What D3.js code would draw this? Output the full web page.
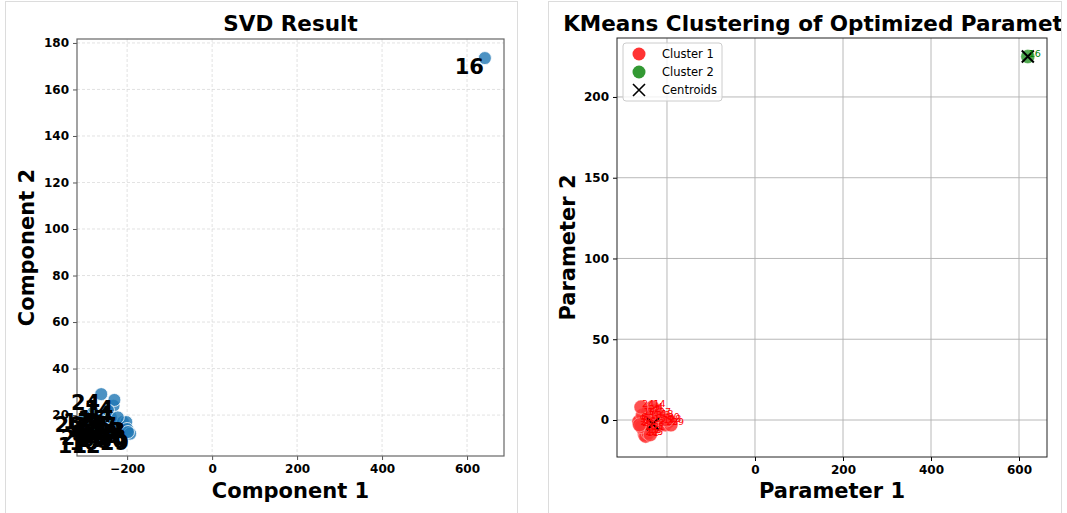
<!DOCTYPE html>
<html>
  <head>
    <meta charset="utf-8" />
    <title>SVD and KMeans</title>
    <style>
      body {
        margin: 0;
        background: #fff;
        font-family: 'DejaVu Sans', sans-serif;
      }
      .tick text {
        font-family: 'DejaVu Sans', sans-serif;
        font-weight: bold;
        font-size: 12px;
        fill: #000;
      }
    </style>
    <script src="https://d3js.org/d3.v7.min.js"></script>
  </head>
  <body>
    <div id="chart"></div>
    <script>
      // SVD result, point index = label
      const svdX = [-285, -270, -290, -215, -232, -250, -275, -260, -240, -295, -265, -292, -260, -220, -230, -245,
                    642, -280, -255, -210, -300, -238, -268, -202, -261, -248, -285, -222, -200, -193, -198];
      const svdY = [17, 15, 19, 15, 24, 18, 13, 20, 14, 16, 12, 10.6, 10.6, 16, 26.5, 22,
                    173.5, 21, 16, 17, 19.5, 19, 18, 17, 29, 13, 14, 19, 14, 12, 12.7];

      // KMeans on optimized parameters
      const paramX = [-257, -246.5, -251, -208, -225, -239.5, -260.5, -236, -222, -264, -253.5, -248.5, -243, -215, -233, -232.5,
                      620, -255.5, -241.5, -211, -258.5, -234.5, -244, -204, -259, -238, -262.5, -220.5, -197, -191, -200.5];
      const paramY = [-2, 3, -9, 1, 6, -3, 0, 4, -4, -1, -6, -10, -8, 2, 8, -1,
                      225, 3, 1, -2, -4, -6, 5, -3, 8, -9, -3, 3, -1, -3, 0];
      const clusterOf = [0, 0, 0, 0, 0, 0, 0, 0, 0, 0, 0, 0, 0, 0, 0, 0,
                         1, 0, 0, 0, 0, 0, 0, 0, 0, 0, 0, 0, 0, 0, 0];
      const centroidX = [-232, 620];
      const centroidY = [-2.5, 225];
      const clusterNames = ["Cluster 1", "Cluster 2"];
      const clusterColors = ["rgb(255,51,51)", "rgb(51,153,51)"];

      const svdXTicks = [-200, 0, 200, 400, 600];
      const svdYTicks = [20, 40, 60, 80, 100, 120, 140, 160, 180];
      const paramXGrid = [-200, 0, 200, 400, 600];
      const paramXTicks = [0, 200, 400, 600];
      const paramYTicks = [0, 50, 100, 150, 200];

      const svg = d3.select("#chart").append("svg")
        .attr("width", 1067).attr("height", 513);

      // panel cards
      svg.append("rect").attr("x", 5.5).attr("y", 1.5).attr("width", 512).attr("height", 530)
        .attr("fill", "#fff").attr("stroke", "#dcdcdc");
      svg.append("rect").attr("x", 548.5).attr("y", 1.5).attr("width", 513).attr("height", 530)
        .attr("fill", "#fff").attr("stroke", "#dcdcdc");
      svg.append("clipPath").attr("id", "card2")
        .append("rect").attr("x", 549).attr("y", 2).attr("width", 512).attr("height", 530);

      // ---------- left: SVD ----------
      const L = { left: 77, right: 504, top: 39, bottom: 456 };
      const x1 = d3.scaleLinear().domain([-318, 687]).range([L.left, L.right]);
      const y1 = d3.scaleLinear().domain([2.4, 181.7]).range([L.bottom, L.top]);
      const g1 = svg.append("g");

      // grid
      g1.append("g").selectAll("line").data(svdXTicks).join("line")
        .attr("x1", d => x1(d)).attr("x2", d => x1(d)).attr("y1", L.top).attr("y2", L.bottom)
        .attr("stroke", "#d6d6d6").attr("stroke-width", 0.7).attr("stroke-dasharray", "3,2");
      g1.append("g").selectAll("line").data(svdYTicks).join("line")
        .attr("x1", L.left).attr("x2", L.right).attr("y1", d => y1(d)).attr("y2", d => y1(d))
        .attr("stroke", "#d6d6d6").attr("stroke-width", 0.7).attr("stroke-dasharray", "3,2");

      g1.append("g").attr("transform", `translate(0,${L.bottom})`)
        .call(d3.axisBottom(x1).tickValues(svdXTicks).tickSize(4).tickPadding(4))
        .call(a => a.select(".domain").remove())
        .call(a => a.selectAll(".tick line").attr("stroke", "#555"));
      g1.append("g").attr("transform", `translate(${L.left},0)`)
        .call(d3.axisLeft(y1).tickValues(svdYTicks).tickSize(4).tickPadding(4))
        .call(a => a.select(".domain").remove())
        .call(a => a.selectAll(".tick line").attr("stroke", "#555"));

      g1.append("rect").attr("x", L.left).attr("y", L.top)
        .attr("width", L.right - L.left).attr("height", L.bottom - L.top)
        .attr("fill", "none").attr("stroke", "#666").attr("stroke-width", 1.2);

      g1.append("g").selectAll("circle").data(svdX).join("circle")
        .attr("cx", d => x1(d)).attr("cy", (d, i) => y1(svdY[i])).attr("r", 6.5)
        .attr("fill", "rgb(31,119,180)").attr("fill-opacity", 0.8)
        .attr("stroke", "#fff").attr("stroke-width", 0.8);

      g1.append("g").selectAll("text").data(svdX).join("text")
        .attr("x", d => x1(d) - 1).attr("y", (d, i) => y1(svdY[i]))
        .attr("dy", 16).attr("text-anchor", "end")
        .attr("font-size", 21).attr("font-weight", "bold").attr("fill", "#000")
        .text((d, i) => i);

      g1.append("text").attr("x", (L.left + L.right) / 2).attr("y", 31)
        .attr("text-anchor", "middle").attr("font-size", 21.5).attr("font-weight", "bold")
        .text("SVD Result");
      g1.append("text").attr("x", (L.left + L.right) / 2).attr("y", 498)
        .attr("text-anchor", "middle").attr("font-size", 21).attr("font-weight", "bold")
        .text("Component 1");
      g1.append("text").attr("transform", `translate(34,${(L.top + L.bottom) / 2}) rotate(-90)`)
        .attr("text-anchor", "middle").attr("font-size", 21).attr("font-weight", "bold")
        .text("Component 2");

      // ---------- right: KMeans ----------
      const R = { left: 617, right: 1047, top: 38, bottom: 457 };
      const x2 = d3.scaleLinear().domain([-313.6, 663.6]).range([R.left, R.right]);
      const y2 = d3.scaleLinear().domain([-22.9, 236.5]).range([R.bottom, R.top]);
      const g2 = svg.append("g").attr("clip-path", "url(#card2)");

      g2.append("g").selectAll("line").data(paramXGrid).join("line")
        .attr("x1", d => x2(d)).attr("x2", d => x2(d)).attr("y1", R.top).attr("y2", R.bottom)
        .attr("stroke", "#b0b0b0").attr("stroke-width", 0.9);
      g2.append("g").selectAll("line").data(paramYTicks).join("line")
        .attr("x1", R.left).attr("x2", R.right).attr("y1", d => y2(d)).attr("y2", d => y2(d))
        .attr("stroke", "#b0b0b0").attr("stroke-width", 0.9);

      g2.append("g").attr("transform", `translate(0,${R.bottom})`)
        .call(d3.axisBottom(x2).tickValues(paramXTicks).tickSize(4).tickPadding(4))
        .call(a => a.select(".domain").remove());
      g2.append("g").attr("transform", `translate(${R.left},0)`)
        .call(d3.axisLeft(y2).tickValues(paramYTicks).tickSize(4).tickPadding(4))
        .call(a => a.select(".domain").remove());

      g2.append("rect").attr("x", R.left).attr("y", R.top)
        .attr("width", R.right - R.left).attr("height", R.bottom - R.top)
        .attr("fill", "none").attr("stroke", "#222").attr("stroke-width", 1);

      const idx = d3.range(paramX.length);
      [0, 1].forEach(c => {
        g2.append("g").selectAll("circle").data(idx.filter(i => clusterOf[i] === c)).join("circle")
          .attr("cx", i => x2(paramX[i])).attr("cy", i => y2(paramY[i])).attr("r", 7)
          .attr("fill", clusterColors[c]).attr("fill-opacity", 0.85)
          .attr("stroke", "#fff").attr("stroke-opacity", 0.6).attr("stroke-width", 0.6);
      });

      const xMark = (sel, s) => sel.attr("d", `M${-s},${-s}L${s},${s}M${-s},${s}L${s},${-s}`)
        .attr("stroke", "#000").attr("stroke-width", 2).attr("fill", "none");
      g2.append("g").selectAll("path").data(centroidX).join("path")
        .attr("transform", (d, i) => `translate(${x2(d)},${y2(centroidY[i])})`)
        .call(xMark, 6);

      g2.append("g").selectAll("text").data(idx).join("text")
        .attr("x", i => x2(paramX[i]) + 1).attr("y", i => y2(paramY[i]))
        .attr("font-size", 9.5).attr("fill", i => clusterOf[i] === 0 ? "#ff0000" : "#008000")
        .text(i => i);

      // legend
      const lg = g2.append("g").attr("transform", "translate(623,43)");
      lg.append("rect").attr("width", 99).attr("height", 58).attr("rx", 3)
        .attr("fill", "#fff").attr("fill-opacity", 0.8).attr("stroke", "#ccc");
      clusterNames.forEach((n, c) => {
        lg.append("circle").attr("cx", 16).attr("cy", 11 + c * 18).attr("r", 6.5)
          .attr("fill", clusterColors[c]);
        lg.append("text").attr("x", 39).attr("y", 15 + c * 18).attr("font-size", 11.5).text(n);
      });
      lg.append("path").attr("transform", "translate(16,47)").call(xMark, 6).attr("stroke-width", 1.6);
      lg.append("text").attr("x", 39).attr("y", 51).attr("font-size", 11.5).text("Centroids");

      g2.append("text").attr("x", (R.left + R.right) / 2).attr("y", 31)
        .attr("text-anchor", "middle").attr("font-size", 21.5).attr("font-weight", "bold")
        .text("KMeans Clustering of Optimized Parameters");
      g2.append("text").attr("x", (R.left + R.right) / 2).attr("y", 498)
        .attr("text-anchor", "middle").attr("font-size", 21).attr("font-weight", "bold")
        .text("Parameter 1");
      g2.append("text").attr("transform", `translate(575,${(R.top + R.bottom) / 2}) rotate(-90)`)
        .attr("text-anchor", "middle").attr("font-size", 21).attr("font-weight", "bold")
        .text("Parameter 2");
    </script>
  </body>
</html>
